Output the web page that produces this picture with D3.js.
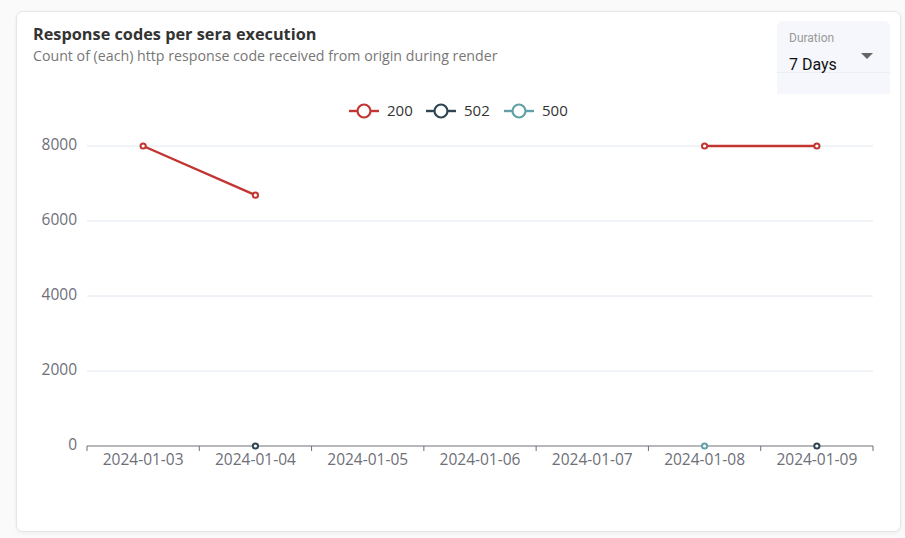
<!doctype html>
<html>
<head>
<meta charset="utf-8">
<script src="https://d3js.org/d3.v7.min.js"></script>
<style>
    body {
        margin: 0;
        background: #fafafa;
        font-family: "Open Sans", "Noto Sans", sans-serif;
    }
    .card {
        position: absolute;
        left: 16px;
        top: 11px;
        width: 883px;
        height: 519px;
        background: #fff;
        border: 1px solid #e6e6e6;
        border-radius: 7px;
        box-shadow: 0 1px 4px rgba(0,0,0,0.06);
    }
    .title {
        position: absolute;
        left: 16px;
        top: 11px;
        font-size: 16.3px;
        font-weight: bold;
        color: #333;
    }
    .subtitle {
        position: absolute;
        left: 16px;
        top: 34px;
        font-size: 14.2px;
        color: #777;
    }
    .select {
        position: absolute;
        left: 760px;
        top: 9px;
        width: 113px;
        height: 73px;
        background: #f6f7fc;
        border-radius: 6px 6px 0 0;
        font-family: Roboto, sans-serif;
    }
    .select .label {
        position: absolute;
        left: 12px;
        top: 10px;
        font-size: 12px;
        color: #999;
    }
    .select .value {
        position: absolute;
        left: 12px;
        top: 34px;
        font-size: 16px;
        color: #111;
    }
    .select .line {
        position: absolute;
        left: 0;
        right: 0;
        top: 51px;
        border-top: 1px solid #eceef5;
    }
    .select .arrow {
        position: absolute;
        left: 84px;
        top: 32px;
        width: 0;
        height: 0;
        border-left: 6px solid transparent;
        border-right: 6px solid transparent;
        border-top: 6px solid #666;
    }
    svg {
        position: absolute;
        left: 0;
        top: 0;
    }
    .axis text {
        font-family: "Open Sans", "Noto Sans", sans-serif;
        font-size: 15.5px;
        fill: #6e7079;
    }
</style>
</head>
<body>
<div class="card">
    <div class="title">Response codes per sera execution</div>
    <div class="subtitle">Count of (each) http response code received from origin during render</div>
    <div class="select">
        <div class="line"></div>
        <div class="label">Duration</div>
        <div class="value">7 Days</div>
        <div class="arrow"></div>
    </div>
</div>
<div id="chart"></div>
<script>
    // categories and series (null = no data that day)
    var dates = ["2024-01-03", "2024-01-04", "2024-01-05", "2024-01-06", "2024-01-07", "2024-01-08", "2024-01-09"];
    var codes = ["200", "502", "500"];
    var colors = ["#c23531", "#2f4554", "#61a0a8"];
    var values200 = [8000, 6690, null, null, null, 8000, 8000];
    var values502 = [null, 0, null, null, null, null, 0];
    var values500 = [null, null, null, null, null, 0, null];
    var yTicks = [0, 2000, 4000, 6000, 8000];

    var series = [values200, values502, values500];

    var W = 905, H = 538;
    var margin = {top: 146, right: 32, bottom: 92, left: 87};
    var width = W - margin.left - margin.right,
        height = H - margin.top - margin.bottom;

    var svg = d3.select("#chart").append("svg")
        .attr("width", W)
        .attr("height", H);

    var g = svg.append("g")
        .attr("transform", "translate(" + margin.left + "," + margin.top + ")");

    var x = d3.scaleBand().domain(dates).range([0, width]);
    var y = d3.scaleLinear().domain([0, 8000]).range([height, 0]);

    // grid lines
    g.append("g")
        .selectAll("line")
        .data(yTicks.filter(function(d) { return d > 0; }))
        .enter().append("line")
        .attr("x1", 0)
        .attr("x2", width)
        .attr("y1", function(d) { return y(d); })
        .attr("y2", function(d) { return y(d); })
        .attr("stroke", "#e0e6f1");

    // y axis (labels only)
    var yAxis = g.append("g")
        .attr("class", "axis")
        .call(d3.axisLeft(y).tickValues(yTicks).tickFormat(d3.format("d")).tickSize(0).tickPadding(10));
    yAxis.select(".domain").remove();
    yAxis.selectAll("text").attr("dy", "0.2em");

    // x axis
    var xAxis = g.append("g")
        .attr("class", "axis")
        .attr("transform", "translate(0," + height + ")")
        .call(d3.axisBottom(x).tickSize(0).tickPadding(8));
    xAxis.select(".domain").attr("stroke", "#6e7079").attr("d", "M0,0H" + width);
    // ticks on band boundaries, like a category axis
    xAxis.selectAll(".bound")
        .data(d3.range(dates.length + 1))
        .enter().append("line")
        .attr("class", "bound")
        .attr("x1", function(i) { return i * x.bandwidth(); })
        .attr("x2", function(i) { return i * x.bandwidth(); })
        .attr("y1", 0)
        .attr("y2", 5)
        .attr("stroke", "#6e7079");

    var line = d3.line()
        .defined(function(d) { return d != null; })
        .x(function(d, i) { return x(dates[i]) + x.bandwidth() / 2; })
        .y(function(d) { return y(d); });

    series.forEach(function(vals, s) {
        g.append("path")
            .datum(vals)
            .attr("fill", "none")
            .attr("stroke", colors[s])
            .attr("stroke-width", 2.4)
            .attr("d", line);

        g.selectAll(".pt" + s)
            .data(vals.map(function(v, i) { return {v: v, i: i}; }).filter(function(d) { return d.v != null; }))
            .enter().append("circle")
            .attr("class", "pt" + s)
            .attr("cx", function(d) { return x(dates[d.i]) + x.bandwidth() / 2; })
            .attr("cy", function(d) { return y(d.v); })
            .attr("r", 2.6)
            .attr("fill", "#fff")
            .attr("stroke", colors[s])
            .attr("stroke-width", 2);
    });

    // legend
    var legendX = [349, 426, 504];
    var legend = svg.append("g").attr("transform", "translate(0,111)");
    codes.forEach(function(c, i) {
        var lg = legend.append("g").attr("transform", "translate(" + legendX[i] + ",0)");
        lg.append("line")
            .attr("x1", 0).attr("x2", 30)
            .attr("stroke", colors[i])
            .attr("stroke-width", 2.4);
        lg.append("circle")
            .attr("cx", 15)
            .attr("r", 6.5)
            .attr("fill", "#fff")
            .attr("stroke", colors[i])
            .attr("stroke-width", 2.2);
        lg.append("text")
            .attr("x", 38)
            .attr("dy", "0.35em")
            .attr("font-size", 15)
            .attr("fill", "#333")
            .text(c);
    });
</script>
</body>
</html>
